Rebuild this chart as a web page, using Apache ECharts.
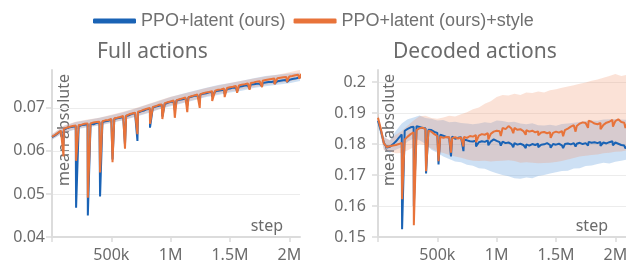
<!DOCTYPE html>
<html lang="en">
<head>
<meta charset="UTF-8">
<title>Full / decoded actions</title>
<script src="https://cdn.jsdelivr.net/npm/echarts@6/dist/echarts.min.js"></script>
<style>
    body { margin: 0; background: #fff; }
    #chart { width: 626px; height: 267px; }
</style>
</head>
<body>
<div id="chart"></div>
<script>
// all steps in thousands
const lineSteps = [
    0, 25, 50, 75, 100, 125, 150, 175, 200, 225, 250, 275, 300, 325, 350, 375, 400,
    425, 450, 475, 500, 525, 550, 575, 600, 625, 650, 675, 700, 725, 750, 775, 800,
    825, 850, 875, 900, 925, 950, 975, 1000, 1025, 1050, 1075, 1100, 1125, 1150, 1175, 1200,
    1225, 1250, 1275, 1300, 1325, 1350, 1375, 1400, 1425, 1450, 1475, 1500, 1525, 1550, 1575, 1600,
    1625, 1650, 1675, 1700, 1725, 1750, 1775, 1800, 1825, 1850, 1875, 1900, 1925, 1950, 1975, 2000,
    2025, 2050, 2075, 2100
];

// ---- Full actions ----
const fullBlue = [
    .0632, .0636, .0641, .0646, .0649,
    .0653, .0655, .0656, .0658, .0657,
    .0660, .0661, .0662, .0663, .0662,
    .0665, .0666, .0667, .0669, .0670,
    .0673, .0674, .0676, .0677, .0679,
    .0681, .0683, .0686, .0688, .0689,
    .0692, .0694, .0697, .0698, .0701,
    .0703, .0705, .0707, .0709, .0712,
    .0714, .0715, .0717, .0719, .0720,
    .0722, .0724, .0726, .0728, .0729,
    .0731, .0733, .0734, .0736, .0737,
    .0738, .0740, .0741, .0742, .0744,
    .0745, .0747, .0747, .0749, .0750,
    .0752, .0752, .0754, .0755, .0756,
    .0756, .0758, .0759, .0760, .0760,
    .0762, .0762, .0763, .0764, .0765,
    .0765, .0767, .0768, .0770, .0772
];
const fullOrange = [
    .0633, .0637, .0642, .0647, .0651,
    .0654, .0656, .0658, .0659, .0660,
    .0661, .0663, .0664, .0664, .0666,
    .0667, .0668, .0669, .0671, .0672,
    .0674, .0676, .0677, .0679, .0681,
    .0682, .0685, .0687, .0689, .0691,
    .0693, .0696, .0698, .0700, .0702,
    .0704, .0707, .0708, .0711, .0713,
    .0715, .0717, .0718, .0720, .0722,
    .0724, .0725, .0727, .0729, .0731,
    .0732, .0734, .0736, .0737, .0739,
    .0740, .0742, .0743, .0745, .0746,
    .0748, .0749, .0751, .0752, .0754,
    .0755, .0757, .0758, .0759, .0761,
    .0762, .0763, .0765, .0766, .0767,
    .0768, .0769, .0770, .0771, .0772,
    .0773, .0774, .0776, .0777, .0779
];
const fullSpikeSteps = [97, 203, 302, 405, 510, 615, 720, 826, 930, 1035, 1140, 1245, 1350, 1455, 1560, 1665, 1770, 1875, 1980, 2085];
const fullBlueSpike = [.0615, .0468, .0450, .0494, .0580, .0615, .0623, .0654, .0680, .0695, .0705, .0715, .0725, .0732, .0738, .0745, .0750, .0756, .0760, .0766];
const fullOrangeSpike = [.0587, .0577, .0491, .0550, .0574, .0605, .0639, .0663, .0674, .0677, .0690, .0700, .0716, .0725, .0735, .0742, .0748, .0755, .0760, .0768];

const fullBandSteps = [0, 100, 200, 300, 400, 500, 600, 700, 800, 900, 1000, 1100, 1200, 1300, 1400, 1500, 1600, 1700, 1800, 1900, 2000, 2100];
const fullBlueLo = [.0626, .0642, .0650, .0655, .0659, .0665, .0671, .0679, .0687, .0696, .0704, .0711, .0718, .0725, .0730, .0736, .0740, .0746, .0750, .0754, .0757, .0763];
const fullBlueHi = [.0638, .0658, .0667, .0672, .0677, .0683, .0690, .0698, .0707, .0716, .0725, .0733, .0740, .0747, .0753, .0758, .0763, .0769, .0774, .0777, .0780, .0782];
const fullOrangeLo = [.0627, .0643, .0651, .0656, .0660, .0666, .0672, .0680, .0688, .0697, .0706, .0712, .0719, .0727, .0732, .0738, .0743, .0748, .0753, .0757, .0761, .0768];
const fullOrangeHi = [.0639, .0659, .0668, .0673, .0677, .0684, .0691, .0699, .0708, .0717, .0726, .0732, .0739, .0746, .0752, .0758, .0763, .0768, .0773, .0777, .0783, .0789];

// ---- Decoded actions ----
const decBlue = [
    .1875, .1842, .1803, .1789, .1791,
    .1799, .1808, .1820, .1831, .1843,
    .1849, .1854, .1856, .1858, .1855,
    .1852, .1851, .1846, .1845, .1839,
    .1836, .1830, .1827, .1823, .1821,
    .1824, .1817, .1820, .1822, .1814,
    .1812, .1809, .1808, .1811, .1806,
    .1809, .1807, .1812, .1808, .1815,
    .1810, .1806, .1808, .1803, .1805,
    .1800, .1803, .1798, .1801, .1797,
    .1799, .1795, .1800, .1797, .1801,
    .1798, .1799, .1803, .1797, .1800,
    .1798, .1801, .1796, .1800, .1802,
    .1799, .1803, .1801, .1804, .1800,
    .1803, .1807, .1804, .1806, .1803,
    .1807, .1805, .1802, .1806, .1809,
    .1805, .1801, .1797, .1795, .1793
];
const decOrange = [
    .1885, .1846, .1802, .1790, .1793,
    .1795, .1797, .1800, .1804, .1815,
    .1824, .1832, .1838, .1845, .1851,
    .1853, .1848, .1843, .1840, .1832,
    .1826, .1824, .1820, .1823, .1822,
    .1819, .1822, .1818, .1821, .1823,
    .1820, .1826, .1824, .1829, .1827,
    .1832, .1830, .1835, .1833, .1840,
    .1843, .1841, .1852, .1848, .1858,
    .1850, .1852, .1846, .1848, .1842,
    .1845, .1840, .1843, .1838, .1841,
    .1837, .1839, .1835, .1838, .1836,
    .1840, .1837, .1842, .1845, .1850,
    .1856, .1861, .1858, .1866, .1870,
    .1868, .1875, .1872, .1866, .1864,
    .1868, .1862, .1869, .1872, .1878,
    .1874, .1880, .1871, .1869, .1866
];
const decSpikeSteps = [203, 302, 405, 510, 615, 720, 826, 930, 1035, 1140, 1245, 1350, 1455, 1560, 1665, 1770, 1875, 1980, 2085];
const decBlueSpike = [.1525, .1600, .1705, .1734, .1760, .1777, .1792, .1796, .1795, .1790, .1787, .1790, .1788, .1787, .1792, .1795, .1794, .1796, .1786];
const decOrangeSpike = [.1622, .1538, .1712, .1745, .1772, .1792, .1806, .1815, .1826, .1835, .1830, .1828, .1820, .1825, .1840, .1852, .1848, .1856, .1852];

const decBandSteps = [
    0, 50, 100, 150, 200, 250, 300, 350, 400, 450, 500, 550, 600, 650, 700, 750, 800, 850, 900, 950,
    1000, 1050, 1100, 1150, 1200, 1250, 1300, 1350, 1400, 1450, 1500, 1550, 1600, 1650, 1700, 1750,
    1800, 1850, 1900, 1950, 2000, 2050, 2100
];
const decBlueLo = [
    .1860, .1782, .1772, .1782, .1790, .1808, .1818, .1812, .1800, .1782, .1772, .1760, .1752, .1744, .1741,
    .1733, .1730, .1722, .1720, .1712, .1706, .1700, .1696, .1690, .1688, .1692, .1690, .1697, .1700, .1705,
    .1709, .1713, .1714, .1721, .1722, .1729, .1731, .1736, .1740, .1737, .1743, .1746, .1750
];
const decBlueHi = [
    .1890, .1822, .1812, .1842, .1866, .1880, .1886, .1892, .1884, .1882, .1876, .1878, .1870, .1872, .1868,
    .1866, .1864, .1866, .1870, .1868, .1876, .1874, .1870, .1872, .1866, .1864, .1867, .1861, .1860, .1862,
    .1859, .1865, .1866, .1869, .1871, .1874, .1876, .1875, .1879, .1880, .1881, .1879, .1878
];
const decOrangeLo = [
    .1870, .1780, .1776, .1770, .1771, .1780, .1790, .1800, .1796, .1786, .1776, .1771, .1765, .1760, .1756,
    .1750, .1746, .1745, .1746, .1744, .1745, .1746, .1748, .1745, .1740, .1741, .1740, .1738, .1739, .1740,
    .1742, .1745, .1750, .1755, .1760, .1762, .1765, .1766, .1770, .1772, .1775, .1776, .1780
];
const decOrangeHi = [
    .1900, .1822, .1812, .1830, .1842, .1860, .1876, .1890, .1891, .1884, .1882, .1886, .1891, .1889, .1896,
    .1903, .1912, .1918, .1930, .1938, .1952, .1958, .1957, .1962, .1958, .1966, .1965, .1970, .1966, .1974,
    .1977, .1982, .1986, .1990, .1995, .1999, .2004, .2008, .2014, .2020, .2026, .2020, .2024
];

const xTicks = [500, 1000, 1500, 2000];
const seriesNames = ['PPO+latent (ours)', 'PPO+latent (ours)+style'];

const BLUE = '#1a63b5';
const ORANGE = '#e8733a';
const BLUE_BAND = 'rgba(100,160,220,0.32)';
const ORANGE_BAND = 'rgba(240,150,110,0.28)';
const TXT = '#6b6b6b';
const FONT = 'Noto Sans';

function lineData(vals, spikeSteps, spikeVals) {
    const pts = lineSteps.map((s, i) => [s * 1000, vals[i]]);
    spikeSteps.forEach((s, i) => pts.push([s * 1000, spikeVals[i]]));
    pts.sort((a, b) => a[0] - b[0]);
    return pts;
}

function bandSeries(idx, steps, lo, hi, color) {
    return {
        type: 'custom',
        xAxisIndex: idx,
        yAxisIndex: idx,
        silent: true,
        clip: true,
        z: 1,
        data: steps.map((s, i) => [s * 1000, lo[i], hi[i]]),
        encode: { x: 0, y: [1, 2] },
        renderItem: function (params, api) {
            if (params.dataIndex !== 0) return null;
            const top = steps.map((s, i) => api.coord([s * 1000, hi[i]]));
            const bot = steps.map((s, i) => api.coord([s * 1000, lo[i]])).reverse();
            return { type: 'polygon', shape: { points: top.concat(bot) }, style: { fill: color } };
        }
    };
}

function lineSeries(idx, name, color, data) {
    return {
        type: 'line', name: name, xAxisIndex: idx, yAxisIndex: idx,
        data: data, symbol: 'none', showSymbol: false, color: color,
        lineStyle: { width: 2, color: color }, z: 3
    };
}

function xAxis(idx) {
    return {
        type: 'value', gridIndex: idx, min: 0, max: 2090000, interval: 500000,
        axisLine: { lineStyle: { color: '#dcdcdc', width: 2 } },
        axisTick: { show: true, length: 5, lineStyle: { color: '#dcdcdc', width: 1.5 } },
        splitLine: { show: false },
        axisLabel: {
            showMaxLabel: false, color: TXT, fontFamily: FONT, fontSize: 16, margin: 10,
            formatter: v => {
                const k = Math.round(v / 1000);
                if (!xTicks.includes(k)) return '';
                return k >= 1000 ? (k / 1000) + 'M' : k + 'k';
            }
        }
    };
}

function yAxis(idx, min, max, nLines, margin) {
    const colors = [];
    for (let i = 0; i < nLines; i++) colors.push('#ececec');
    colors.push('rgba(0,0,0,0)');
    return {
        type: 'value', gridIndex: idx, min: min, max: max, interval: 0.01,
        axisLine: { show: true, lineStyle: { color: '#dcdcdc', width: 2 } },
        axisTick: { show: true, length: 6, lineStyle: { color: '#dcdcdc', width: 1.5 } },
        splitLine: { show: true, lineStyle: { color: colors, width: 1 } },
        axisLabel: {
            showMaxLabel: false, color: TXT, fontFamily: FONT, fontSize: 16, margin: margin,
            formatter: v => String(+v.toFixed(2))
        }
    };
}

const chart = echarts.init(document.getElementById('chart'));
chart.setOption({
    animation: false,
    title: [
        { text: 'Full actions', left: 92, top: 37, textStyle: { fontFamily: FONT, fontSize: 21, fontWeight: 'normal', color: TXT } },
        { text: 'Decoded actions', left: 388, top: 37, textStyle: { fontFamily: FONT, fontSize: 21, fontWeight: 'normal', color: TXT } }
    ],
    legend: {
        data: seriesNames, left: 88, top: 7, icon: 'roundRect',
        itemWidth: 43, itemHeight: 5, itemGap: 8,
        textStyle: { fontFamily: 'Liberation Sans', fontSize: 18, color: '#707070' }
    },
    grid: [
        { left: 52, top: 70, width: 248, height: 167, containLabel: false, outerBoundsMode: 'none' },
        { left: 378, top: 70, width: 248, height: 167, containLabel: false, outerBoundsMode: 'none' }
    ],
    xAxis: [xAxis(0), xAxis(1)],
    yAxis: [yAxis(0, 0.04, 0.0788, 4, 7), yAxis(1, 0.15, 0.2039, 6, 12)],
    graphic: [
        { type: 'text', x: 64, y: 74, rotation: Math.PI / 2, silent: true,
          style: { text: 'mean absolute', fill: TXT, font: '16px "Noto Sans"', textAlign: 'right', textVerticalAlign: 'middle' } },
        { type: 'text', x: 389, y: 74, rotation: Math.PI / 2, silent: true,
          style: { text: 'mean absolute', fill: TXT, font: '16px "Noto Sans"', textAlign: 'right', textVerticalAlign: 'middle' } },
        { type: 'text', x: 283, y: 226, silent: true,
          style: { text: 'step', fill: TXT, font: '16px "Noto Sans"', textAlign: 'right', textVerticalAlign: 'middle' } },
        { type: 'text', x: 608, y: 226, silent: true,
          style: { text: 'step', fill: TXT, font: '16px "Noto Sans"', textAlign: 'right', textVerticalAlign: 'middle' } }
    ],
    series: [
        bandSeries(0, fullBandSteps, fullBlueLo, fullBlueHi, BLUE_BAND),
        bandSeries(0, fullBandSteps, fullOrangeLo, fullOrangeHi, ORANGE_BAND),
        lineSeries(0, seriesNames[0], BLUE, lineData(fullBlue, fullSpikeSteps, fullBlueSpike)),
        lineSeries(0, seriesNames[1], ORANGE, lineData(fullOrange, fullSpikeSteps, fullOrangeSpike)),
        bandSeries(1, decBandSteps, decBlueLo, decBlueHi, BLUE_BAND),
        bandSeries(1, decBandSteps, decOrangeLo, decOrangeHi, ORANGE_BAND),
        lineSeries(1, seriesNames[0], BLUE, lineData(decBlue, decSpikeSteps, decBlueSpike)),
        lineSeries(1, seriesNames[1], ORANGE, lineData(decOrange, decSpikeSteps, decOrangeSpike))
    ]
});
</script>
</body>
</html>
